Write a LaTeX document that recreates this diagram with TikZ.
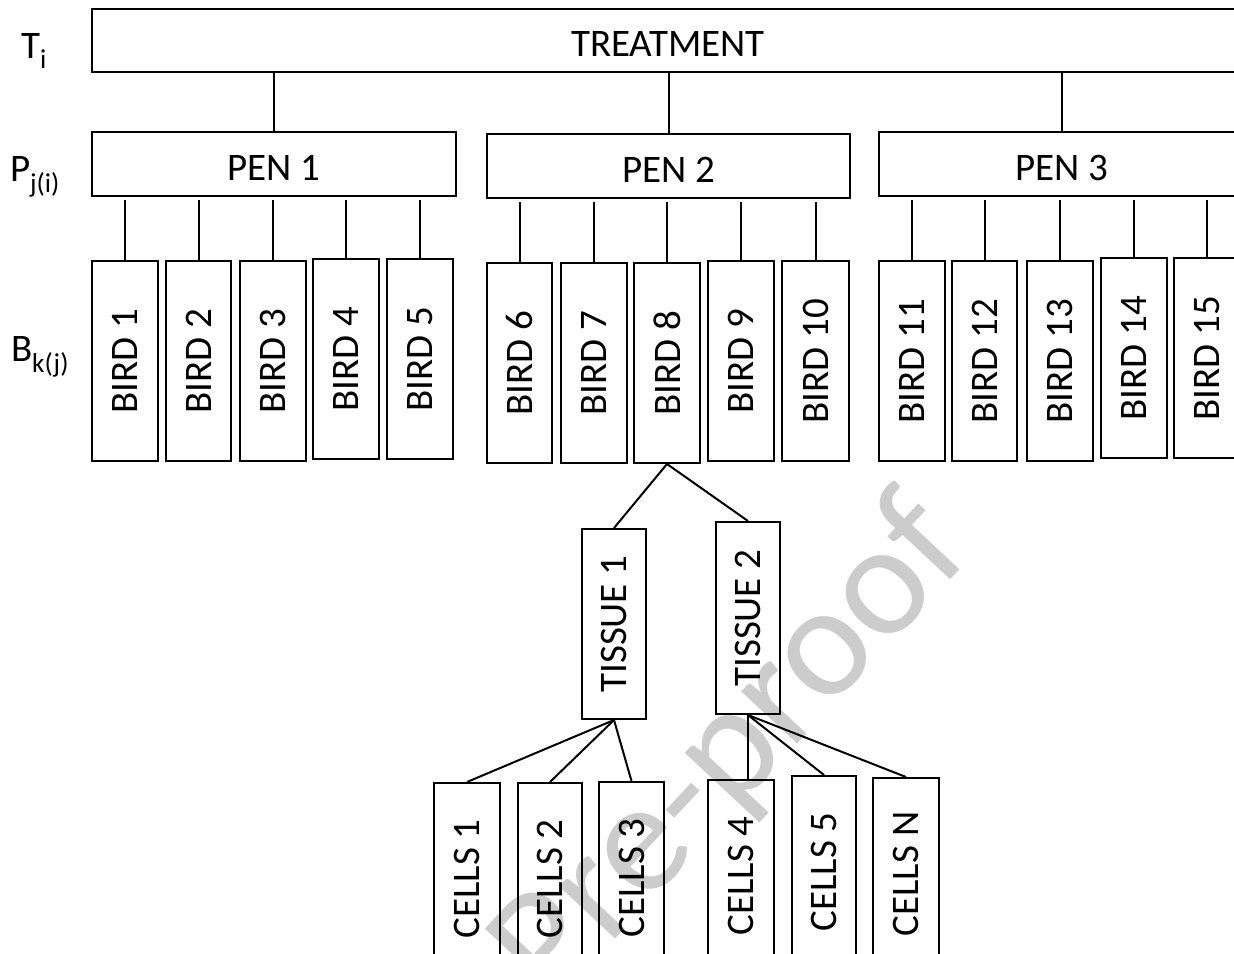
\documentclass[tikz,border=0pt]{standalone}
\usepackage{fontspec}
\setmainfont{Carlito}
\usepackage{tikz}
\newcommand\vlab[1]{\rotatebox{90}{#1}}

\begin{document}
\begin{tikzpicture} [x = 1pt, y = -1pt, line width = 2pt, font = \fontsize{39}{44}\selectfont,
  box/.style = {draw, inner sep = 0pt, anchor = north west},
  treatbox/.style = {box, minimum width = 1152, minimum height = 63, text height = 32pt, text depth = 0pt},
  penbox/.style = {box, minimum width = 364, minimum height = 64, text height = 32pt, text depth = 0pt},
  birdbox/.style = {box, minimum width = 66, minimum height = 200},
  tissuebox/.style = {box, minimum width = 64, minimum height = 190},
  cellbox/.style = {box, minimum width = 65, minimum height = 192},
  levellab/.style = {inner sep = 0pt, anchor = base west}]
\useasboundingbox (0,0) rectangle (1234,953);
\clip (0,0) rectangle (1234,953);
\node[rotate = 47, inner sep = 0pt, text = black!20, font = \fontsize{160}{160}\selectfont] (wm) at (733,752) {Pre-proof};
\node[levellab] (lt) at (20,58) {T\textsubscript{i}};
\node[levellab] (lp) at (9,181) {P\textsubscript{j(i)}};
\node[levellab] (lb) at (10,361) {B\textsubscript{k(j)}};
\node[treatbox] (tr) at (91,8) {TREATMENT};
\node[penbox] (p1) at (91,131) {PEN 1};
\node[penbox, minimum width = 363] (p2) at (486,133) {PEN 2};
\node[penbox, minimum width = 366] (p3) at (878,131) {PEN 3};
\node[birdbox] (b1) at (91,260) {\vlab{BIRD 1}};
\node[birdbox, minimum width = 65] (b2) at (165,260) {\vlab{BIRD 2}};
\node[birdbox] (b3) at (239,260) {\vlab{BIRD 3}};
\node[birdbox] (b4) at (312,258) {\vlab{BIRD 4}};
\node[birdbox] (b5) at (386,258) {\vlab{BIRD 5}};
\node[birdbox, minimum width = 65] (b6) at (486,262) {\vlab{BIRD 6}};
\node[birdbox] (b7) at (560,262) {\vlab{BIRD 7}};
\node[birdbox] (b8) at (633,262) {\vlab{BIRD 8}};
\node[birdbox] (b9) at (707,260) {\vlab{BIRD 9}};
\node[birdbox, minimum width = 67] (b10) at (781,260) {\vlab{BIRD 10}};
\node[birdbox] (b11) at (878,260) {\vlab{BIRD 11}};
\node[birdbox, minimum width = 65] (b12) at (951,260) {\vlab{BIRD 12}};
\node[birdbox] (b13) at (1026,260) {\vlab{BIRD 13}};
\node[birdbox] (b14) at (1100,257) {\vlab{BIRD 14}};
\node[birdbox] (b15) at (1173,257) {\vlab{BIRD 15}};
\node[tissuebox] (t1) at (581,528) {\vlab{TISSUE 1}};
\node[tissuebox, minimum height = 192] (t2) at (715,521) {\vlab{TISSUE 2}};
\node[cellbox, minimum width = 66] (c1) at (433,782) {\vlab{CELLS 1}};
\node[cellbox, minimum width = 64] (c2) at (517,782) {\vlab{CELLS 2}};
\node[cellbox] (c3) at (598,781) {\vlab{CELLS 3}};
\node[cellbox, minimum width = 66] (c4) at (707,779) {\vlab{CELLS 4}};
\node[cellbox, minimum width = 64] (c5) at (791,775) {\vlab{CELLS 5}};
\node[cellbox, minimum width = 66] (cn) at (872,777) {\vlab{CELLS N}};
\draw (p1.north) -- (p1.north |- tr.south);
\draw (p2.north) -- (p2.north |- tr.south);
\draw (p3.north) -- (p3.north |- tr.south);
\draw [shorten > = 3pt] (b1.north) -- (b1.north |- p1.south);
\draw [shorten > = 3pt] (b2.north) -- (b2.north |- p1.south);
\draw [shorten > = 3pt] (b3.north) -- (b3.north |- p1.south);
\draw [shorten > = 3pt] (b4.north) -- (b4.north |- p1.south);
\draw [shorten > = 3pt] (b5.north) -- (b5.north |- p1.south);
\draw [shorten > = 3pt] (b6.north) -- (b6.north |- p2.south);
\draw [shorten > = 3pt] (b7.north) -- (b7.north |- p2.south);
\draw [shorten > = 3pt] (b8.north) -- (b8.north |- p2.south);
\draw [shorten > = 3pt] (b9.north) -- (b9.north |- p2.south);
\draw [shorten > = 3pt] (b10.north) -- (b10.north |- p2.south);
\draw [shorten > = 3pt] (b11.north) -- (b11.north |- p3.south);
\draw [shorten > = 3pt] (b12.north) -- (b12.north |- p3.south);
\draw [shorten > = 3pt] (b13.north) -- (b13.north |- p3.south);
\draw [shorten > = 3pt] (b14.north) -- (b14.north |- p3.south);
\draw [shorten > = 3pt] (b15.north) -- (b15.north |- p3.south);
\draw (b8.south) -- (t1.north);
\draw (b8.south) -- (t2.north);
\draw (t1.south) -- (c1.north);
\draw (t1.south) -- (c2.north);
\draw (t1.south) -- (c3.north);
\draw (t2.south) -- (t2.south |- c4.north);
\draw (t2.south) -- (c5.north);
\draw (t2.south) -- (cn.north);
\end{tikzpicture}
\end{document}
